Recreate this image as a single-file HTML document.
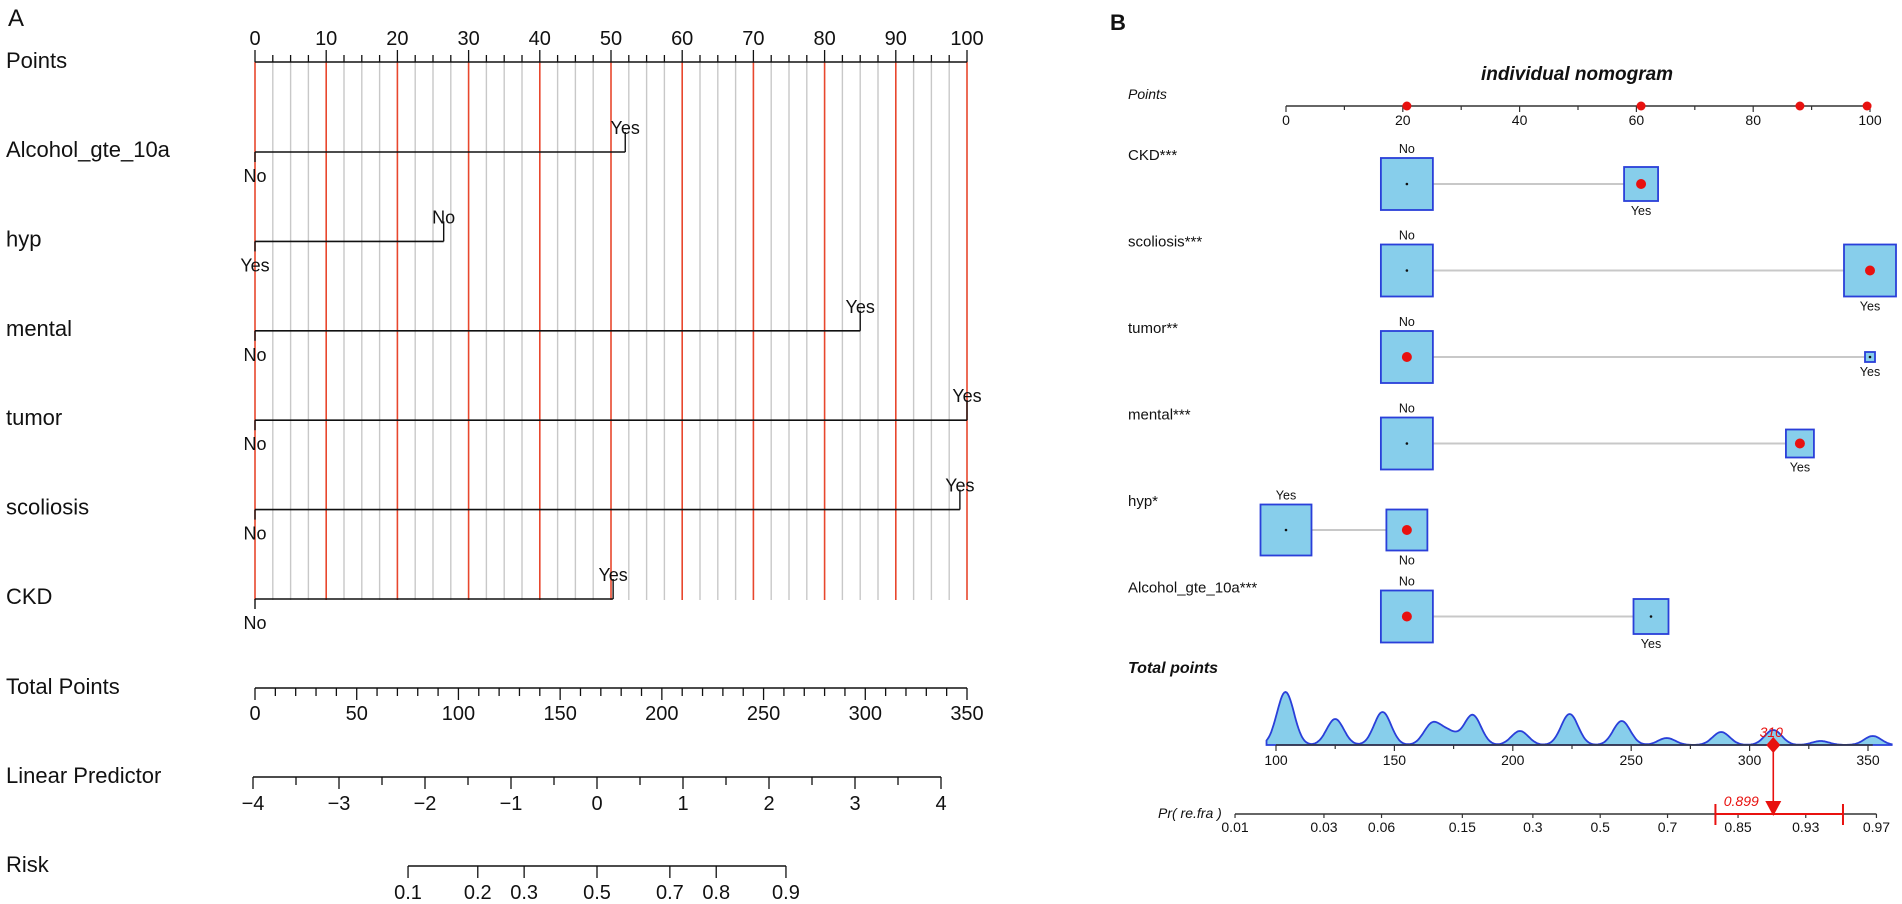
<!DOCTYPE html>
<html><head><meta charset="utf-8"><style>
html,body{margin:0;padding:0;background:#fff}
svg{display:block;font-family:"Liberation Sans",sans-serif}
</style></head><body>
<svg id="c" width="1902" height="904" viewBox="0 0 1902 904"></svg>
<script>
// ---- Panel A data ----
const aPointTicks=[0,10,20,30,40,50,60,70,80,90,100];
const aVarNames=["Alcohol_gte_10a","hyp","mental","tumor","scoliosis","CKD"];
const aHighLabel=["Yes","No","Yes","Yes","Yes","Yes"];
const aLowLabel=["No","Yes","No","No","No","No"];
const aHighPoints=[52,26.5,85,100,99,50.3];
const totalTicks=[0,50,100,150,200,250,300,350];
const lpTicks=[-4,-3,-2,-1,0,1,2,3,4];
const riskTicks=[0.1,0.2,0.3,0.5,0.7,0.8,0.9];
const riskLabels=["0.1","0.2","0.3","0.5","0.7","0.8","0.9"];
// ---- Panel B data ----
const bPointTicks=[0,20,40,60,80,100];
const bVarNames=["CKD***","scoliosis***","tumor**","mental***","hyp*","Alcohol_gte_10a***"];
const bLevelA=["No","No","No","No","Yes","No"];
const bLevelB=["Yes","Yes","Yes","Yes","No","Yes"];
const bPointsA=[20.7,20.7,20.7,20.7,0,20.7];
const bPointsB=[60.8,100,100,88,20.7,62.5];
const bSizeA=[52,52,52,52,51,52];
const bSizeB=[34,52,10,28,41,35];
const bSelected=["B","B","A","B","B","A"];
const bSelectedPoints=[20.7,60.8,88,99.5];
const densCenters=[104,125,145,166,173,183,203,224,246,265,288,310,330,352];
const densHeights=[53,26,33,21,12,30,14,31,24,7,13,15,4,9];
const tpTicks=[100,150,200,250,300,350];
const prTicks=[0.01,0.03,0.06,0.15,0.3,0.5,0.7,0.85,0.93,0.97];
const prLabels=["0.01","0.03","0.06","0.15","0.3","0.5","0.7","0.85","0.93","0.97"];
const patientTotal=310;
const patientPr=0.899;
const ciLow=0.81, ciHigh=0.955;

const NS="http://www.w3.org/2000/svg";
const svg=document.getElementById('c');
function el(tag,attrs,parent){const e=document.createElementNS(NS,tag);for(const k in attrs)e.setAttribute(k,attrs[k]);(parent||svg).appendChild(e);return e;}
function txt(x,y,s,size,attrs){const t=el('text',Object.assign({x:x,y:y,'font-size':size,fill:'#111'},attrs||{}));t.textContent=s;return t;}

// Panel A scales
const ax=v=>255+v*7.12;
const tx=v=>255+v*(712/350);
const lx=v=>597+v*86;
const logit=p=>Math.log(p/(1-p));

let t=txt(8,26,"A",24);


// grid lines
for(let v=0;v<=100.01;v+=2.5){
  const major=Math.abs(v/10-Math.round(v/10))<1e-6;
  const l=el('line',{x1:ax(v),x2:ax(v),y1:62,y2:600,stroke:major?'#e8472d':'#c8c8c8','stroke-width':major?1.6:1.4});
  
}
// points axis
t=txt(6,68,"Points",22);
let a=el('line',{x1:ax(0),x2:ax(100),y1:62,y2:62,stroke:'#111','stroke-width':1.6});

for(let v=0;v<=100.01;v+=2.5){el('line',{x1:ax(v),x2:ax(v),y1:62,y2:Math.abs(v%10)<1e-6?50:55,stroke:'#111','stroke-width':1.3});}
aPointTicks.forEach(v=>{t=txt(ax(v),45,String(v),20,{'text-anchor':'middle'});});

// variable rows
aVarNames.forEach((n,i)=>{
  const y=152+i*89.4;
  t=txt(6,y+5,n,22);
  const l=el('line',{x1:ax(0),x2:ax(aHighPoints[i]),y1:y,y2:y,stroke:'#111','stroke-width':1.6});
  
  el('line',{x1:ax(0),x2:ax(0),y1:y,y2:y+10,stroke:'#111','stroke-width':1.4});
  el('line',{x1:ax(aHighPoints[i]),x2:ax(aHighPoints[i]),y1:y,y2:y-20,stroke:'#111','stroke-width':1.4});
  t=txt(ax(aHighPoints[i]),y-18,aHighLabel[i],18,{'text-anchor':'middle'});
  t=txt(ax(0),y+30,aLowLabel[i],18,{'text-anchor':'middle'});
});

// total points
t=txt(6,694,"Total Points",22);
a=el('line',{x1:tx(0),x2:tx(350),y1:688,y2:688,stroke:'#111','stroke-width':1.6});
for(let v=0;v<=350;v+=10)el('line',{x1:tx(v),x2:tx(v),y1:688,y2:v%50===0?700:696,stroke:'#111','stroke-width':1.3});
totalTicks.forEach(v=>{t=txt(tx(v),720,String(v),20,{'text-anchor':'middle'});});

// linear predictor
t=txt(6,783,"Linear Predictor",22);
a=el('line',{x1:lx(-4),x2:lx(4),y1:777,y2:777,stroke:'#111','stroke-width':1.6});
for(let v=-4;v<=4.01;v+=0.5)el('line',{x1:lx(v),x2:lx(v),y1:777,y2:Number.isInteger(v)?789:785,stroke:'#111','stroke-width':1.3});
lpTicks.forEach(v=>{t=txt(lx(v),810,v<0?"\u2212"+(-v):String(v),20,{'text-anchor':'middle'});});

// risk
t=txt(6,872,"Risk",22);
a=el('line',{x1:lx(logit(riskTicks[0])),x2:lx(logit(riskTicks[riskTicks.length-1])),y1:866,y2:866,stroke:'#111','stroke-width':1.6});
riskTicks.forEach((v,i)=>{el('line',{x1:lx(logit(v)),x2:lx(logit(v)),y1:866,y2:878,stroke:'#111','stroke-width':1.3});
  t=txt(lx(logit(v)),899,riskLabels[i],20,{'text-anchor':'middle'});});

// ---- Panel B ----
const bx=v=>1286+v*5.84;
const dx=v=>1276+(v-100)*2.368;
const prx=p=>dx(82.7+(logit(p)+4.595)*33.56);
t=txt(1110,30,"B",22,{'font-weight':'bold'});
t=txt(1577,80,"individual nomogram",19,{'text-anchor':'middle','font-weight':'bold','font-style':'italic'});
t=txt(1128,99,"Points",14,{'font-style':'italic'});
a=el('line',{x1:bx(0),x2:bx(100),y1:106,y2:106,stroke:'#333','stroke-width':1.4});
for(let v=0;v<=100;v+=10)el('line',{x1:bx(v),x2:bx(v),y1:106,y2:v%20===0?112:110,stroke:'#333','stroke-width':1.2});
bPointTicks.forEach(v=>{t=txt(bx(v),125,String(v),14,{'text-anchor':'middle'});});
bSelectedPoints.forEach(v=>{const c=el('circle',{cx:bx(v),cy:106,r:4.5,fill:'#e8110f'});});

bVarNames.forEach((n,i)=>{
  const cy=184+i*86.5;
  t=txt(1128,cy-24,n,15);
  const xa=bx(bPointsA[i]),xb=bx(bPointsB[i]);
  const l=el('line',{x1:xa,x2:xb,y1:cy,y2:cy,stroke:'#c8c8c8','stroke-width':2});
  [[xa,bSizeA[i],bLevelA[i],'A'],[xb,bSizeB[i],bLevelB[i],'B']].forEach(([x,s,lab,k],j)=>{
    const r=el('rect',{x:x-s/2,y:cy-s/2,width:s,height:s,fill:'#87ceeb',stroke:'#2a3fd9','stroke-width':1.8});
    
    const sel=bSelected[i]===k;
    const d=el('circle',{cx:x,cy:cy,r:sel?5:1.3,fill:sel?'#e8110f':'#111'});
    
    const above=(j===0);
    const ty=above?cy-s/2-5:cy+s/2+14;
    t=txt(x,ty,lab,12.5,{'text-anchor':'middle'});
  });
});

t=txt(1128,673,"Total points",16,{'font-weight':'bold','font-style':'italic'});
// density
let pts=[];
for(let v=96;v<=360;v+=0.5){let h=0;densCenters.forEach((c,k)=>{h+=densHeights[k]*Math.exp(-0.5*Math.pow((v-c)/3.6,2));});pts.push([dx(v),745-h]);}
let dstr="M"+dx(96)+",745 "+pts.map(p=>"L"+p[0].toFixed(1)+","+p[1].toFixed(1)).join(" ")+" L"+dx(360)+",745 Z";
const dp=el('path',{d:dstr,fill:'#87ceeb',stroke:'#2a3fd9','stroke-width':1.8});
a=el('line',{x1:dx(100),x2:dx(352),y1:745,y2:745,stroke:'#333','stroke-width':1.4});
for(let v=100;v<=350;v+=25)el('line',{x1:dx(v),x2:dx(v),y1:745,y2:v%50===0?751:749,stroke:'#333','stroke-width':1.2});
tpTicks.forEach(v=>{t=txt(dx(v),765,String(v),14,{'text-anchor':'middle'});});

// Pr axis
t=txt(1158,818,"Pr( re.fra )",14,{'font-style':'italic'});
a=el('line',{x1:prx(0.01),x2:prx(0.97),y1:814,y2:814,stroke:'#333','stroke-width':1.4});
prTicks.forEach((v,i)=>{el('line',{x1:prx(v),x2:prx(v),y1:814,y2:818,stroke:'#333','stroke-width':1.2});
  t=txt(prx(v),832,prLabels[i],14,{'text-anchor':'middle'});});
// CI
const ci=el('line',{x1:prx(ciLow),x2:prx(ciHigh),y1:814,y2:814,stroke:'#e8110f','stroke-width':2});
[ciLow,ciHigh].forEach(v=>{const c=el('line',{x1:prx(v),x2:prx(v),y1:804,y2:825,stroke:'#e8110f','stroke-width':2});});
// patient marker
const px=dx(patientTotal);
const ml=el('line',{x1:px,x2:px,y1:745,y2:806,stroke:'#e8110f','stroke-width':1.6});
const dm=el('polygon',{points:`${px},737 ${px+7},745 ${px},753 ${px-7},745`,fill:'#e8110f'});
const ar=el('polygon',{points:`${px-8},801 ${px+8},801 ${px},816`,fill:'#e8110f'});
t=txt(px-2,737,String(patientTotal),14,{'text-anchor':'middle',fill:'#e8110f','font-style':'italic'});
t=txt(px-32,806,String(patientPr),14,{'text-anchor':'middle',fill:'#e8110f','font-style':'italic'});
</script>
</body></html>
